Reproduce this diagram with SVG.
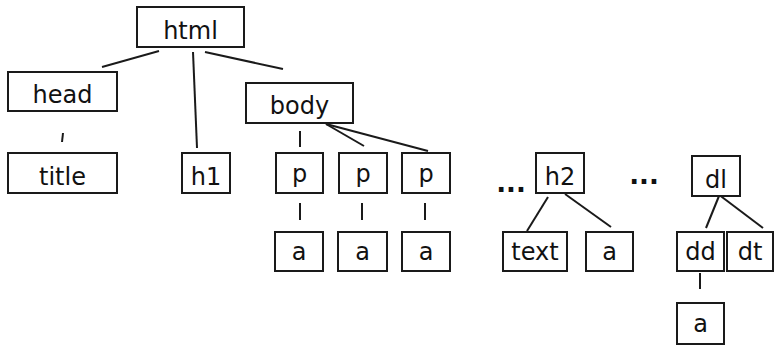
<svg xmlns="http://www.w3.org/2000/svg" width="774" height="346" viewBox="0 0 774 346">
  <style>
    .box { fill: #ffffff; stroke: #1a1a1a; stroke-width: 2; }
    .lbl { font-family: "Comic Sans MS", "DejaVu Sans", sans-serif; font-size: 24px; fill: #111111; text-anchor: middle; }
    .dots { font-family: "DejaVu Sans", sans-serif; font-size: 26px; font-weight: bold; fill: #111111; text-anchor: middle; }
    .edge { stroke: #1a1a1a; stroke-width: 2; stroke-linecap: butt; fill: none; }
  </style>
  <rect width="774" height="346" fill="#ffffff"/>

  <!-- tree edges -->
  <g id="connectors">
    <line class="edge" x1="159" y1="51" x2="102" y2="67"/>
    <line class="edge" x1="193" y1="52" x2="197" y2="148"/>
    <line class="edge" x1="205" y1="52" x2="283" y2="69"/>
    <line class="edge" x1="63" y1="133" x2="62" y2="142"/>
    <line class="edge" x1="300" y1="131" x2="300" y2="147"/>
    <line class="edge" x1="326" y1="124" x2="364" y2="146"/>
    <line class="edge" x1="326" y1="124" x2="428" y2="151"/>
    <line class="edge" x1="300" y1="203" x2="300" y2="220"/>
    <line class="edge" x1="362" y1="203" x2="362" y2="220"/>
    <line class="edge" x1="425" y1="203" x2="425" y2="220"/>
    <line class="edge" x1="548" y1="197" x2="527" y2="231"/>
    <line class="edge" x1="565" y1="194" x2="611" y2="227"/>
    <line class="edge" x1="719" y1="196" x2="706" y2="228"/>
    <line class="edge" x1="718" y1="194" x2="763" y2="228"/>
    <line class="edge" x1="700" y1="273" x2="700" y2="289"/>
  </g>

  <g id="n-html"><rect class="box" x="137" y="7" width="107" height="40"/><text class="lbl" x="190.5" y="38.5">html</text></g>
  <g id="n-head"><rect class="box" x="8" y="72" width="109" height="39"/><text class="lbl" x="62.5" y="103">head</text></g>
  <g id="n-body"><rect class="box" x="246" y="83" width="107" height="40"/><text class="lbl" x="299.5" y="114">body</text></g>
  <g id="n-title"><rect class="box" x="8" y="153" width="109" height="40"/><text class="lbl" x="62.5" y="185">title</text></g>
  <g id="n-h1"><rect class="box" x="182" y="153" width="48" height="40"/><text class="lbl" x="206" y="185">h1</text></g>
  <g id="n-p1"><rect class="box" x="276" y="153" width="47" height="40"/><text class="lbl" x="299.5" y="182">p</text></g>
  <g id="n-p2"><rect class="box" x="339" y="153" width="48" height="40"/><text class="lbl" x="363" y="182">p</text></g>
  <g id="n-p3"><rect class="box" x="402" y="153" width="48" height="40"/><text class="lbl" x="426" y="182">p</text></g>
  <g id="n-h2"><rect class="box" x="536" y="153" width="48" height="40"/><text class="lbl" x="560" y="185">h2</text></g>
  <g id="n-dl"><rect class="box" x="692" y="156" width="48" height="40"/><text class="lbl" x="716" y="188">dl</text></g>

  <g id="n-a1"><rect class="box" x="275" y="232" width="48" height="39"/><text class="lbl" x="299" y="260">a</text></g>
  <g id="n-a2"><rect class="box" x="338" y="232" width="49" height="39"/><text class="lbl" x="362.5" y="260">a</text></g>
  <g id="n-a3"><rect class="box" x="402" y="232" width="48" height="39"/><text class="lbl" x="426" y="260">a</text></g>
  <g id="n-text"><rect class="box" x="503" y="232" width="64" height="39"/><text class="lbl" x="535" y="260">text</text></g>
  <g id="n-a4"><rect class="box" x="586" y="232" width="47" height="39"/><text class="lbl" x="609.5" y="260">a</text></g>
  <g id="n-dd"><rect class="box" x="677" y="232" width="47" height="39"/><text class="lbl" x="700.5" y="260">dd</text></g>
  <g id="n-dt"><rect class="box" x="727" y="232" width="46" height="39"/><text class="lbl" x="750" y="260">dt</text></g>
  <g id="n-a5"><rect class="box" x="677" y="303" width="47" height="41"/><text class="lbl" x="700.5" y="332">a</text></g>

  <g id="ellipses">
    <text class="dots" x="511" y="192">...</text>
    <text class="dots" x="644" y="184">...</text>
  </g>
</svg>
